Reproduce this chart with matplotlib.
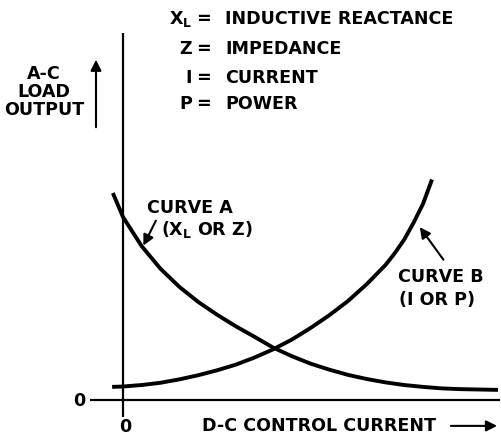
import matplotlib
matplotlib.use('Agg')
import matplotlib.pyplot as plt

plt.rcParams['font.family'] = ['DejaVu Sans']
plt.rcParams['font.weight'] = 'bold'
plt.rcParams['mathtext.fontset'] = 'dejavusans'

# d-c control current vs a-c load output (arbitrary units)
curve_a_x = [-0.27, 0.0, 0.5, 1.0, 1.5, 2.0, 2.5, 3.0, 3.5, 4.0, 4.5, 5.0, 5.5,
             6.0, 6.5, 7.0, 7.5, 8.0, 8.5, 9.0, 9.5, 10.0]
curve_a_y = [5.52, 4.88, 4.10, 3.50, 3.02, 2.62, 2.28, 1.97, 1.69, 1.40, 1.17, 0.97, 0.81,
             0.67, 0.56, 0.47, 0.40, 0.35, 0.31, 0.29, 0.28, 0.27]

curve_b_x = [-0.29, 0.0, 0.5, 1.0, 1.5, 2.0, 2.5, 3.0, 3.5, 4.0, 4.5, 5.0, 5.5,
             6.0, 6.5, 7.0, 7.25, 7.5, 7.75, 8.0, 8.24]
curve_b_y = [0.35, 0.36, 0.40, 0.46, 0.55, 0.66, 0.79, 0.94, 1.13, 1.35, 1.61, 1.92, 2.26,
             2.64, 3.09, 3.60, 3.92, 4.28, 4.73, 5.23, 5.88]

symbols = [r'$\mathbf{X_L}$', 'Z', 'I', 'P']
meanings = ['INDUCTIVE REACTANCE', 'IMPEDANCE', 'CURRENT', 'POWER']

fs = 12.6

fig = plt.figure(figsize=(5.01, 4.38), dpi=100)
ax = fig.add_axes([0, 0, 1, 1])
ax.set_xlim(-3.28, 10.08)
ax.set_ylim(-1.013, 10.667)
ax.axis('off')

# axes drawn by hand, y axis runs a bit past the origin
ax.plot([0, 0], [-0.45, 9.79], color='k', lw=1.6, solid_capstyle='butt')
ax.plot([-0.88, 10.05], [0, 0], color='k', lw=1.6, solid_capstyle='butt')

ax.plot(curve_a_x, curve_a_y, color='k', lw=2.8, solid_joinstyle='round', solid_capstyle='butt')
ax.plot(curve_b_x, curve_b_y, color='k', lw=2.8, solid_joinstyle='round', solid_capstyle='butt')

# key at the top
key_y = [10.16, 9.36, 8.59, 7.89]
for sym, txt, yy in zip(symbols, meanings, key_y):
    ax.text(1.84, yy, sym, ha='right', va='center', fontsize=fs, fontweight='bold')
    ax.text(2.14, yy, '=', ha='center', va='center', fontsize=fs, fontweight='bold')
    ax.text(2.72, yy, txt, ha='left', va='center', fontsize=fs, fontweight='bold')

ax.text(-2.11, 8.22, 'A-C\nLOAD\nOUTPUT', ha='center', va='center', multialignment='center',
        fontsize=fs, fontweight='bold', linespacing=1.0)
ax.annotate('', xy=(-0.72, 9.15), xytext=(-0.72, 7.2),
            arrowprops=dict(arrowstyle='-|>', lw=1.5, color='k', mutation_scale=16))

ax.text(0.64, 5.12, 'CURVE A', ha='left', va='center', fontsize=fs, fontweight='bold')
ax.text(1.02, 4.56, r'$\mathbf{(X_L\ OR\ Z)}$', ha='left', va='center', fontsize=fs)
ax.annotate('', xy=(0.51, 4.05), xytext=(0.91, 4.85),
            arrowprops=dict(arrowstyle='-|>', lw=1.5, color='k', mutation_scale=16))

ax.text(7.33, 3.28, 'CURVE B', ha='left', va='center', fontsize=fs, fontweight='bold')
ax.text(7.36, 2.67, '(I OR P)', ha='left', va='center', fontsize=fs, fontweight='bold')
ax.annotate('', xy=(7.87, 4.67), xytext=(8.59, 3.68),
            arrowprops=dict(arrowstyle='-|>', lw=1.5, color='k', mutation_scale=16))

ax.text(-1.17, -0.03, '0', ha='center', va='center', fontsize=fs, fontweight='bold')
ax.text(0.05, -0.72, '0', ha='center', va='center', fontsize=fs, fontweight='bold')

ax.text(2.11, -0.69, 'D-C CONTROL CURRENT', ha='left', va='center', fontsize=fs, fontweight='bold')
ax.annotate('', xy=(10.05, -0.69), xytext=(8.67, -0.69),
            arrowprops=dict(arrowstyle='-|>', lw=1.5, color='k', mutation_scale=16))

fig.savefig('out.png', dpi=100)
